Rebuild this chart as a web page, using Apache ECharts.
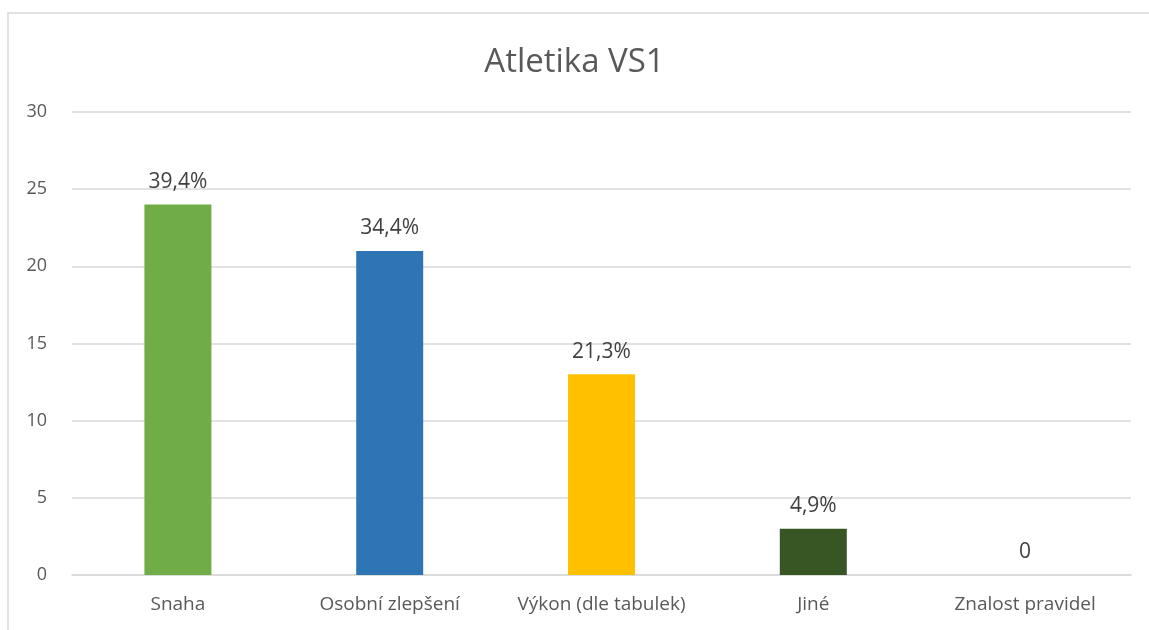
<!DOCTYPE html>
<html>
<head>
<meta charset="utf-8">
<script src="https://cdn.jsdelivr.net/npm/echarts@6/dist/echarts.min.js"></script>
<style>
  html, body { margin: 0; padding: 0; background: #fff; }
  #chart { width: 1149px; height: 630px; }
</style>
</head>
<body>
<div id="chart"></div>
<script>
const categories = ["Snaha", "Osobní zlepšení", "Výkon (dle tabulek)", "Jiné", "Znalost pravidel"];
const counts = [24, 21, 13, 3, 0];
const percentLabels = ["39,4%", "34,4%", "21,3%", "4,9%", "0"];
const barColors = ["#70AD47", "#2E75B6", "#FFC000", "#375623", "#A5A5A5"];

const textColor = "#595959";
const fontFamily = "'Open Sans', 'Noto Sans', sans-serif";

const myChart = echarts.init(document.getElementById("chart"));

const options = {
  animation: false,
  title: {
    text: "Atletika VS1",
    left: "center",
    top: 41,
    textStyle: {
      color: textColor,
      fontSize: 33,
      fontWeight: "normal",
      fontFamily: fontFamily,
    },
  },
  // 外框
  graphic: [
    {
      type: "rect",
      shape: { x: 8, y: 13, width: 1150, height: 630 },
      style: { fill: "none", stroke: "#d9d9d9", lineWidth: 1.5 },
      silent: true,
    },
  ],
  grid: {
    left: 72,
    right: 18,
    top: 112,
    bottom: 55,
  },
  xAxis: {
    type: "category",
    data: categories,
    axisLine: { lineStyle: { color: "#d9d9d9", width: 1.5 } },
    axisTick: { show: false },
    axisLabel: {
      color: textColor,
      fontSize: 19,
      fontFamily: fontFamily,
      margin: 20,
      interval: 0,
    },
  },
  yAxis: {
    type: "value",
    min: 0,
    max: 30,
    interval: 5,
    axisLine: { show: false },
    axisTick: { show: false },
    axisLabel: {
      color: textColor,
      fontSize: 18,
      fontFamily: fontFamily,
      margin: 25,
    },
    splitLine: {
      lineStyle: { color: "#d9d9d9", width: 1.5 },
    },
  },
  series: [
    {
      type: "bar",
      barWidth: 67,
      data: counts.map((v, i) => ({
        value: v,
        itemStyle: { color: barColors[i] },
        label: { formatter: percentLabels[i] },
      })),
      label: {
        show: true,
        position: "top",
        distance: 12,
        color: "#404040",
        fontSize: 21,
        fontFamily: fontFamily,
      },
    },
  ],
};

myChart.setOption(options);
</script>
</body>
</html>
